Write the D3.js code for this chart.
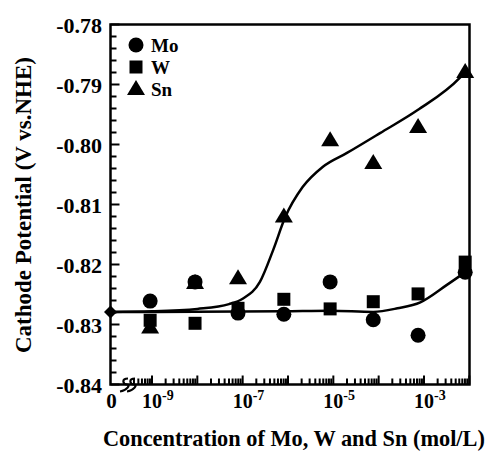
<!DOCTYPE html>
<html>
<head>
<meta charset="utf-8">
<script src="https://cdn.jsdelivr.net/npm/d3@7"></script>
<style>
  html, body { margin: 0; padding: 0; background: #fff; }
  svg { display: block; }
  text { font-family: "Liberation Serif", "Times New Roman", serif; font-weight: bold; fill: #000; }
</style>
</head>
<body>
<svg id="chart" width="488" height="452"></svg>
<script>
// Measured concentrations (mol/L) shared by all three additives
const concentrations = [9.1e-10, 8.9e-9, 7.9e-8, 8.1e-7, 8.5e-6, 7.6e-5, 7.4e-4, 8.1e-3];
// Cathode potential (V vs. NHE) for each additive
const moPotential = [-0.8261, -0.8229, -0.8281, -0.8283, -0.8229, -0.8292, -0.8318, -0.8213];
const wPotential  = [-0.8293, -0.8298, -0.8273, -0.8258, -0.8274, -0.8262, -0.8249, -0.8196];
const snPotential = [-0.8305, -0.8231, -0.8223, -0.8120, -0.7993, -0.8031, -0.7971, -0.7879];
// Potential without any additive (plotted at "0")
const zeroPotential = -0.8279;

// Guide-to-the-eye curves (0 means the additive-free point)
const snFitConc = [0, 1e-9, 1e-8, 5e-8, 1e-7, 2.4e-7, 4.7e-7, 8.7e-7, 2.1e-6, 5.9e-6, 2.0e-5, 1.07e-4, 7.1e-4, 6.3e-3, 8.1e-3];
const snFitV    = [-0.8279, -0.8278, -0.8274, -0.8266, -0.8257, -0.8229, -0.8176, -0.8121, -0.8071, -0.8037, -0.8014, -0.7981, -0.7943, -0.7888, -0.7879];
const moWFitConc = [0, 1e-9, 8e-7, 8.5e-6, 7.6e-5, 2.6e-4, 8.3e-4, 3.2e-3, 8.1e-3];
const moWFitV    = [-0.8279, -0.8279, -0.8278, -0.8277, -0.8279, -0.8273, -0.8263, -0.8234, -0.8213];

const legendLabels = ["Mo", "W", "Sn"];
const yTicks = [-0.84, -0.83, -0.82, -0.81, -0.80, -0.79, -0.78];
const xLabelExponents = [-9, -7, -5, -3];
const yTitle = "Cathode Potential (V vs.NHE)";
const xTitle = "Concentration of Mo, W and Sn (mol/L)";

const svg = d3.select("#chart");
const plotLeft = 110.5, plotRight = 469.5, plotTop = 24.5, plotBottom = 384.5;

const xLog = d3.scaleLog().domain([1e-9, 1e-3]).range([152, 424]);
const xPos = c => (c === 0 ? plotLeft : xLog(c));
const y = d3.scaleLinear().domain([-0.84, -0.78]).range([plotBottom, plotTop]);

// --- frame ---
svg.append("path")
  .attr("d", `M${plotLeft},${plotTop}H${plotRight}V${plotBottom}H${plotLeft}Z`)
  .attr("fill", "none").attr("stroke", "#000").attr("stroke-width", 2.5);

// --- y ticks (inward), minor every 0.002 ---
const yMinor = d3.range(0, 31).map(i => -0.84 + i * 0.002);
svg.append("g").selectAll("line").data(yMinor).join("line")
  .attr("x1", plotLeft).attr("x2", (d, i) => plotLeft + (i % 5 === 0 ? 9 : 6))
  .attr("y1", d => y(d)).attr("y2", d => y(d))
  .attr("stroke", "#000").attr("stroke-width", 2);

svg.append("g").selectAll("text").data(yTicks).join("text")
  .attr("x", 102).attr("y", d => y(d) + 8)
  .attr("text-anchor", "end").attr("font-size", 22)
  .text(d => d.toFixed(2));

// --- x ticks (inward), log decades ---
const xTickVals = [];
for (let e = -10; e <= -3; e++) {
  for (let m = 1; m <= 9; m++) {
    const v = m * Math.pow(10, e);
    if (v >= 4e-10 && v <= 1.0001e-2) xTickVals.push({ v, major: m === 1 });
  }
}
xTickVals.push({ v: 1e-2, major: true });
svg.append("g").selectAll("line").data(xTickVals).join("line")
  .attr("x1", d => xLog(d.v)).attr("x2", d => xLog(d.v))
  .attr("y1", plotBottom).attr("y2", d => plotBottom - (d.major ? 9 : 6))
  .attr("stroke", "#000").attr("stroke-width", 2);

// axis break mark
const brk = svg.append("g").attr("fill", "none").attr("stroke", "#000").attr("stroke-width", 2.2);
[124, 131].forEach(bx => {
  brk.append("path")
    .attr("d", `M${bx + 4},${plotBottom - 6} C${bx - 3},${plotBottom - 6} ${bx - 1},${plotBottom} ${bx + 3},${plotBottom} S${bx + 3},${plotBottom + 6} ${bx - 4},${plotBottom + 7}`);
});

// x tick labels
svg.append("text").attr("x", plotLeft + 1).attr("y", 408)
  .attr("text-anchor", "middle").attr("font-size", 21).text("0");
const xl = svg.append("g").selectAll("text").data(xLabelExponents).join("text")
  .attr("x", d => xLog(Math.pow(10, d)) - 10).attr("y", 408)
  .attr("font-size", 20);
xl.append("tspan").text("10");
xl.append("tspan").attr("dy", -8).attr("font-size", 14).text(d => String(d));

// --- fitted curves ---
const line = d3.line().x(d => xPos(d[0])).y(d => y(d[1])).curve(d3.curveMonotoneX);
svg.append("path").datum(d3.zip(moWFitConc, moWFitV))
  .attr("d", line).attr("fill", "none").attr("stroke", "#000").attr("stroke-width", 2.5);
svg.append("path").datum(d3.zip(snFitConc, snFitV))
  .attr("d", line).attr("fill", "none").attr("stroke", "#000").attr("stroke-width", 2.5);

// --- markers ---
const shapes = {
  circle: d3.symbol().type(d3.symbolCircle).size(Math.PI * 7.5 * 7.5),
  square: () => "M-6.5,-6.5H6.5V6.5H-6.5Z",
  triangle: () => "M0,-9L9,6H-9Z"
};
const series = [
  { key: "circle", values: moPotential },
  { key: "square", values: wPotential },
  { key: "triangle", values: snPotential }
];
series.forEach(s => {
  svg.append("g").selectAll("path").data(d3.zip(concentrations, s.values)).join("path")
    .attr("transform", d => `translate(${xPos(d[0])},${y(d[1])})`)
    .attr("d", shapes[s.key]())
    .attr("fill", "#000");
});
// additive-free point
svg.append("path")
  .attr("transform", `translate(${xPos(0)},${y(zeroPotential)})`)
  .attr("d", "M0,-6.5L6.5,0L0,6.5L-6.5,0Z").attr("fill", "#000");

// --- legend ---
const legend = svg.append("g");
legendLabels.forEach((lab, i) => {
  const cy = 45 + i * 22;
  legend.append("path")
    .attr("transform", `translate(136,${cy})`)
    .attr("d", shapes[series[i].key]()).attr("fill", "#000");
  legend.append("text").attr("x", 151).attr("y", cy + 7)
    .attr("font-size", 19).text(lab);
});

// --- axis titles ---
svg.append("text")
  .attr("transform", "translate(31,205) rotate(-90)")
  .attr("text-anchor", "middle").attr("font-size", 23)
  .text(yTitle);
const xt = svg.append("text").attr("x", 103).attr("y", 446)
  .attr("font-size", 23).text(xTitle);
// keep the title inside the page width
const avail = 382;
const len = xt.node().getComputedTextLength();
if (len > avail) xt.attr("font-size", 23 * avail / len);
</script>
</body>
</html>
